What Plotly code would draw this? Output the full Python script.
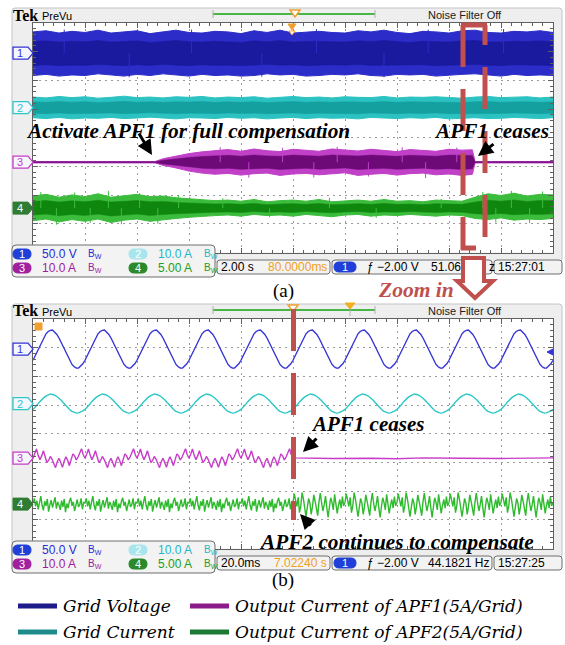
import plotly.graph_objects as go

# ---------------------------------------------------------------------------
# Channel settings (volts / amps per division) and screen offsets (divisions)
# ---------------------------------------------------------------------------
ch_names = ["Grid Voltage", "Grid Current",
            "Output Current of APF1(5A/Grid)", "Output Current of APF2(5A/Grid)"]
ch_scale = [50.0, 10.0, 10.0, 5.0]
ch_offset = [6.95, 5.05, 3.15, 1.55]
ch_scale_labels = ["50.0 V", "10.0 A", "10.0 A", "5.00 A"]

# ---------------------------------------------------------------------------
# Record (a): 2.00 s/div, envelopes of the dense traces
# ---------------------------------------------------------------------------
t_a = [0.0, 0.5, 1.0, 1.5, 2.0, 2.5, 3.0, 3.5, 4.0, 4.5, 5.0, 5.5, 6.0, 6.5,
       7.0, 7.5, 8.0, 8.5, 9.0, 9.5, 10.0, 10.5, 11.0, 11.5, 12.0, 12.5, 13.0,
       13.5, 14.0, 14.5, 15.0, 15.5, 16.0, 16.5, 17.0, 17.5, 18.0, 18.5, 19.0,
       19.5, 20.0]
ch1_up_a = [37, 39, 35, 38, 36, 40, 35, 37, 39, 34, 37, 40, 36, 35, 38, 37, 34,
            39, 36, 40, 35, 37, 38, 36, 35, 39, 37, 40, 36, 34, 38, 37, 35, 39,
            40, 36, 35, 38, 37, 39, 36]
ch1_lo_a = [-39, -37, -40, -38, -39, -36, -38, -40, -37, -39, -36, -38, -40,
            -37, -39, -38, -40, -39, -36, -38, -37, -40, -39, -37, -38, -36,
            -39, -40, -37, -38, -37, -40, -39, -37, -36, -38, -40, -37, -39,
            -38, -39]
ch2_up_a = [3.7, 3.4, 3.9, 3.5, 3.8, 3.3, 3.6, 4.0, 3.5, 3.7, 3.4, 3.8, 3.6,
            3.9, 3.4, 3.7, 3.5, 3.8, 3.3, 3.6, 3.9, 3.5, 3.7, 3.4, 3.8, 3.6,
            3.5, 3.9, 3.4, 3.7, 3.6, 3.8, 3.5, 3.3, 3.7, 3.9, 3.5, 3.6, 3.8,
            3.4, 3.7]
ch2_lo_a = [-3.5, -3.8, -3.4, -3.9, -3.6, -3.7, -3.4, -3.8, -3.6, -3.3, -3.7,
            -3.9, -3.5, -3.6, -3.8, -3.4, -3.7, -3.5, -3.9, -3.6, -3.4, -3.8,
            -3.5, -3.7, -3.6, -3.9, -3.4, -3.6, -3.8, -3.5, -3.7, -3.4, -3.9,
            -3.6, -3.5, -3.8, -3.7, -3.4, -3.6, -3.8, -3.5]
t3_a = [0.0, 1.0, 2.0, 3.0, 4.0, 4.7, 5.0, 5.5, 6.0, 6.5, 7.0, 7.5, 8.0, 8.5,
        9.0, 9.5, 10.0, 10.5, 11.0, 11.5, 12.0, 12.5, 13.0, 13.5, 14.0, 14.5,
        15.0, 15.5, 16.0, 16.5, 16.9, 17.0, 18.0, 19.0, 20.0]
ch3_up_a = [0.25, 0.25, 0.25, 0.25, 0.25, 0.25, 1.2, 2.2, 3.0, 3.6, 4.0, 4.4,
            3.8, 4.6, 4.0, 3.7, 4.5, 4.1, 3.8, 4.6, 4.2, 3.9, 4.5, 4.0, 3.7,
            4.4, 4.1, 3.8, 4.5, 4.2, 4.3, 0.25, 0.25, 0.25, 0.25]
ch3_lo_a = [-0.25, -0.25, -0.25, -0.25, -0.25, -0.25, -1.1, -2.0, -3.1, -3.8,
            -4.2, -3.9, -4.5, -4.0, -3.8, -4.6, -4.1, -3.9, -4.4, -4.0, -3.7,
            -4.6, -4.2, -3.9, -4.5, -4.0, -3.8, -4.4, -4.1, -4.6, -4.2, -0.25,
            -0.25, -0.25, -0.25]
ch4_up_a = [2.1, 2.4, 1.9, 2.3, 2.0, 2.5, 1.9, 2.2, 2.4, 2.0, 2.1, 1.8, 1.6,
            1.5, 1.3, 1.4, 1.2, 1.5, 1.1, 1.3, 1.4, 1.2, 1.5, 1.1, 1.3, 1.4,
            1.2, 1.5, 1.2, 1.3, 1.1, 1.4, 1.3, 1.2, 1.9, 2.5, 2.2, 2.6, 2.1,
            2.4, 2.3]
ch4_lo_a = [-2.2, -1.9, -2.4, -2.0, -2.3, -1.9, -2.5, -2.1, -1.9, -2.3, -2.0,
            -1.8, -1.6, -1.4, -1.3, -1.2, -1.4, -1.1, -1.3, -1.2, -1.4, -1.1,
            -1.3, -1.5, -1.2, -1.1, -1.4, -1.2, -1.3, -1.1, -1.3, -1.4, -1.2,
            -1.3, -1.8, -2.0, -1.7, -2.1, -1.9, -2.0, -1.8]
# isolated peaks poking out of the dense bands
ch1_spike_t = [1.2, 3.7, 6.1, 8.8, 10.9, 13.5, 15.2, 18.1]
ch1_spike_v = [41, -42, 41, -41, 42, -42, 41, 42]
ch3_spike_t = [7.2, 8.3, 9.6, 10.8, 11.7, 12.9, 14.2, 15.1, 16.3]
ch3_spike_v = [5.2, -5.4, 5.0, -5.3, 5.4, -5.0, 5.2, -5.5, 5.1]
ch4_spike_t = [0.3, 0.9, 1.6, 2.2, 2.9, 3.4, 4.1, 4.8, 5.6, 7.3, 9.1, 11.4,
               13.2, 15.7, 17.3, 17.8, 18.4, 19.1, 19.6]
ch4_spike_v = [2.8, -2.9, 2.7, -2.6, 3.0, -2.8, 2.6, -2.7, 2.3, 1.7, -1.6, 1.8,
               -1.7, 1.6, 2.8, -2.5, 3.0, -2.6, 2.9]

# ---------------------------------------------------------------------------
# Record (b): 20.0 ms/div, one mains period (20 ms) per division
# ---------------------------------------------------------------------------
period_b = 20.0          # ms
n_cycles_b = 10
ch1_cycle_b = [-19.4, -11.8, -3.4, 5.2, 13.4, 20.8, 26.7, 30.8, 32.8, 33.2,
               30.1, 25.6, 19.4, 11.8, 3.4, -5.2, -13.4, -20.8, -26.7, -30.8,
               -32.8, -33.0, -30.1, -25.6]
ch2_cycle_b = [-2.0, -1.3, -0.4, 0.6, 1.4, 2.1, 2.6, 3.0, 3.4, 3.2, 3.0, 2.5,
               1.9, 1.2, 0.3, -0.6, -1.4, -2.1, -2.7, -3.1, -3.3, -3.2, -2.9,
               -2.5]
ch3_cycle_b = [0.0, 1.5, 3.2, 1.0, -0.5, 0.8, 2.6, 0.5, -1.5, -0.8, 0.6, -0.4,
               -2.0, -3.3, -1.2, 0.0, -1.5, -3.2, -1.0, 0.5, -0.8, -2.6, -0.5,
               1.5, 0.8, -0.6, 0.4, 2.0, 3.3, 1.2]
ch3_rest_t = [100.4, 115.0, 130.0, 140.0, 150.0, 165.0, 180.0, 200.0]
ch3_rest_v = [0.1, -0.1, 0.0, -0.2, 0.1, 0.0, -0.1, 0.1]
ch4_pre_b = [0.2, 1.0, -0.4, 0.6, -0.9, 0.3, 1.4, -0.2, -1.1, 0.5, -0.3, 0.9,
             -1.3, -0.1, 0.7, -0.6, 0.2, 1.2, -0.8, 0.4, -0.2, -1.0, 0.6, -0.5,
             0.9, -1.4, 0.1, -0.7, 0.5, 1.1, -0.3, 0.4, -1.2, 0.2, 0.8, -0.5,
             -0.1, 1.0, -0.9, 0.3]
ch4_post_b = [0.3, 1.8, 0.6, -0.4, 1.2, -1.5, -0.3, 2.0, 0.9, -0.8, -2.2, -0.6,
              1.0, 0.2, -1.8, -0.4, 1.6, 0.5, -0.9, -2.0, 0.4, 1.9, 0.2, -1.2,
              -0.1, 1.4, -0.6, -2.3, -0.5, 1.1, 0.3, -1.0, 1.7, 0.4, -1.6, -0.2,
              0.8, -0.7, 1.3, -0.3]

# Readouts
readout_a = dict(timebase="2.00 s", position="80.0000ms", freq="51.06", clock="15:27:01")
readout_b = dict(timebase="20.0ms", position="7.02240 s", freq="44.1821 Hz", clock="15:27:25")

# ---------------------------------------------------------------------------
# Pixel helpers
# ---------------------------------------------------------------------------
W, H = 565, 645
GX0, GX1 = 33, 553
DIV = 28.7
A_TOP = 23
B_TOP = 319
DY_B = 296

SANS = "Liberation Sans Narrow, Arial Narrow, Liberation Sans, Arial, sans-serif"
SERIF = "Liberation Serif"
SERIF_LEG = "DejaVu Serif"
RED = "#c0504d"

col_line = ["#3535d5", "#2bc8c8", "#c83cc8", "#2dbb2d"]
col_edge_a = ["#2c2cc8", "#2cc2c2", "#c040c8", "#3cbc3c"]
col_core_a = ["#1a1a9e", "#15a0a0", "#6e0a78", "#0f870f"]
col_read = ["#2a2ad8", "#20b8c8", "#a020a0", "#20a020"]
col_badge = ["#1f3fd8", "#a8e6ee", "#a020a0", "#2a8a2a"]


def X(px):
    return px / W


def Y(py):
    return 1 - py / H


def rrect(x0, y0, x1, y1, r):
    return (f"M{X(x0 + r)},{Y(y0)} L{X(x1 - r)},{Y(y0)} Q{X(x1)},{Y(y0)} {X(x1)},{Y(y0 + r)} "
            f"L{X(x1)},{Y(y1 - r)} Q{X(x1)},{Y(y1)} {X(x1 - r)},{Y(y1)} "
            f"L{X(x0 + r)},{Y(y1)} Q{X(x0)},{Y(y1)} {X(x0)},{Y(y1 - r)} "
            f"L{X(x0)},{Y(y0 + r)} Q{X(x0)},{Y(y0)} {X(x0 + r)},{Y(y0)} Z")


def poly(pts, close=True):
    s = "M" + " L".join(f"{X(a)},{Y(b)}" for a, b in pts)
    return s + (" Z" if close else "")


shapes = []
annotations = []


def add_path(path, fill="rgba(0,0,0,0)", line_color="rgba(0,0,0,0)", width=1, layer="above", dash="solid"):
    shapes.append(dict(type="path", xref="paper", yref="paper", path=path, fillcolor=fill,
                       line=dict(color=line_color, width=width, dash=dash), layer=layer))


def add_line(x0, y0, x1, y1, color, width=1, dash="solid", layer="above"):
    shapes.append(dict(type="line", xref="paper", yref="paper", x0=X(x0), y0=Y(y0), x1=X(x1), y1=Y(y1),
                       line=dict(color=color, width=width, dash=dash), layer=layer))


def add_text(x, y, s, size=12, color="black", anchor="left", family=SANS, weight="normal", style="normal"):
    annotations.append(dict(x=X(x), y=Y(y), xref="paper", yref="paper", text=s, showarrow=False,
                            xanchor=anchor, yanchor="middle", borderpad=0,
                            font=dict(family=family, size=size, color=color, weight=weight, style=style)))


def add_arrow(xt, yt, xh, yh):
    annotations.append(dict(x=X(xh), y=Y(yh), xref="paper", yref="paper", ax=xt - xh, ay=yt - yh,
                            axref="pixel", ayref="pixel", text="", showarrow=True, arrowhead=2,
                            arrowsize=1.0, arrowwidth=3, arrowcolor="black"))


# ---------------------------------------------------------------------------
# Scope chrome (frame, tags, readouts)
# ---------------------------------------------------------------------------
def scope_chrome(dy, readout, freq_split):
    # frame and graticule background
    add_path(rrect(12, 8 + dy, 562, 262 + dy, 3), fill="#eeeeee", line_color="#c4c4c4", layer="below")
    add_path(poly([(GX0, A_TOP + dy), (GX1, A_TOP + dy), (GX1, A_TOP + 8 * DIV + dy), (GX0, A_TOP + 8 * DIV + dy)]),
             fill="white", layer="below")
    # header
    add_text(12, 15 + dy, "Tek", size=16, family=SERIF, weight="bold")
    add_text(41, 16 + dy, "PreVu", size=11)
    add_line(213, 14 + dy, 375, 14 + dy, "#49b649", width=2)
    add_line(213, 10 + dy, 213, 18 + dy, "#b0b0b0", width=1)
    add_line(375, 10 + dy, 375, 18 + dy, "#b0b0b0", width=1)
    add_text(465, 15 + dy, "Noise Filter Off", size=11, color="#202020", anchor="center")

    # channel tags on the left edge
    bottom = A_TOP + 8 * DIV + dy
    for i in range(4):
        yc = bottom - ch_offset[i] * DIV
        pts = [(13, yc - 6), (28, yc - 6), (33, yc), (28, yc + 6), (13, yc + 6)]
        if i == 3:
            add_path(poly(pts), fill="#2e7d32", line_color="#2e7d32", width=1)
            add_text(20, yc, str(i + 1), size=11, color="white", anchor="center")
        else:
            add_path(poly(pts), fill="#f6f6ff", line_color=col_line[i], width=1.3)
            add_text(20, yc, str(i + 1), size=11, color=col_line[i], anchor="center")

    # vertical settings box
    add_path(rrect(12, 245 + dy, 215, 277 + dy, 4), fill="#f3f3f3", line_color="#6e6e6e", width=1)
    rows = [(0, 13, 254), (1, 129, 254), (2, 13, 268), (3, 129, 268)]
    for i, bx, by in rows:
        add_path(rrect(bx, by - 5 + dy, bx + 18, by + 5 + dy, 5), fill=col_badge[i], line_color=col_badge[i])
        add_text(bx + 9, by + dy, str(i + 1), size=11, color="white", anchor="center")
        add_text(bx + 28, by + dy, ch_scale_labels[i], size=12, color=col_read[i])
        add_text(bx + 74, by + dy, "B<sub>W</sub>", size=10, color=col_read[i])

    # horizontal / trigger / clock boxes
    add_path(rrect(217, 260 + dy, 330, 274 + dy, 3), fill="#f3f3f3", line_color="#6e6e6e")
    add_text(220, 267 + dy, readout["timebase"], size=12)
    add_text(328, 267 + dy, readout["position"], size=12, color="#f0a020", anchor="right")
    add_path(rrect(332, 260 + dy, 492, 274 + dy, 3), fill="#f3f3f3", line_color="#6e6e6e")
    add_path(rrect(334, 262 + dy, 356, 272 + dy, 5), fill="#1f3fd8", line_color="#1f3fd8")
    add_text(345, 267 + dy, "1", size=11, color="white", anchor="center")
    add_text(366, 267 + dy, "ƒ −2.00 V", size=12)
    if freq_split:
        add_text(462, 267 + dy, readout["freq"], size=12, anchor="right")
    else:
        add_text(490, 267 + dy, readout["freq"], size=12, anchor="right")
    add_path(rrect(494, 260 + dy, 562, 274 + dy, 3), fill="#f3f3f3", line_color="#6e6e6e")
    add_text(497, 267 + dy, readout["clock"], size=12)


scope_chrome(0, readout_a, True)
scope_chrome(DY_B, readout_b, False)

# trigger markers
add_path(poly([(290, 10), (300, 10), (295, 17)]), fill="white", line_color="#f0a030", width=1.5)
add_path(poly([(288, 24), (296, 24), (292, 30)]), fill="#f0a030", line_color="#f0a030")
add_path(poly([(289, 31), (295, 31), (292, 35)]), fill="white", line_color="#f0a030", width=1)
add_path(poly([(288, 305), (298, 305), (293, 312)]), fill="white", line_color="#f0a030", width=1.5)
add_path(poly([(345, 303), (355, 303), (350, 309)]), fill="#f0b020", line_color="#f0b020")
add_line(350, 309, 350, 316, "#b0b0b0", width=1)
add_path(poly([(35, 323), (42, 323), (42, 330), (35, 330)]), fill="#f0a030", line_color="#f0a030")
add_path(poly([(553, 349), (547, 352), (553, 355)]), fill="#3535d5", line_color="#3535d5")

# ---------------------------------------------------------------------------
# Traces
# ---------------------------------------------------------------------------
fig = go.Figure()


def to_div(vals, i):
    return [ch_offset[i] + v / ch_scale[i] for v in vals]


def band(t, up, lo, i):
    xs = list(t) + list(t)[::-1]
    ys = to_div(up, i) + to_div(lo, i)[::-1]
    fig.add_trace(go.Scatter(x=xs, y=ys, fill="toself", fillcolor=col_edge_a[i], mode="lines",
                             line=dict(color=col_edge_a[i], width=1), xaxis="x", yaxis="y",
                             name=ch_names[i], hoverinfo="skip"))
    core_up = [v * 0.55 for v in up]
    core_lo = [v * 0.55 for v in lo]
    ys2 = to_div(core_up, i) + to_div(core_lo, i)[::-1]
    fig.add_trace(go.Scatter(x=xs, y=ys2, fill="toself", fillcolor=col_core_a[i], mode="lines",
                             line=dict(color=col_core_a[i], width=0.5), xaxis="x", yaxis="y",
                             name=ch_names[i], hoverinfo="skip"))


def spikes(ts, vs, i):
    xs, ys = [], []
    for t, v in zip(ts, vs):
        xs += [t, t, None]
        ys += [ch_offset[i], ch_offset[i] + v / ch_scale[i], None]
    fig.add_trace(go.Scatter(x=xs, y=ys, mode="lines", line=dict(color=col_edge_a[i], width=1),
                             xaxis="x", yaxis="y", name=ch_names[i], hoverinfo="skip"))


band(t_a, ch1_up_a, ch1_lo_a, 0)
band(t_a, ch2_up_a, ch2_lo_a, 1)
band(t3_a, ch3_up_a, ch3_lo_a, 2)
band(t_a, ch4_up_a, ch4_lo_a, 3)
spikes(ch1_spike_t, ch1_spike_v, 0)
spikes(ch3_spike_t, ch3_spike_v, 2)
spikes(ch4_spike_t, ch4_spike_v, 3)


def tile(cycle, c_start, c_stop, period):
    ts, vs = [], []
    n = len(cycle)
    for c in range(c_start, c_stop):
        for k, v in enumerate(cycle):
            ts.append((c + k / n) * period)
            vs.append(v)
    return ts, vs


def wave(ts, vs, i):
    fig.add_trace(go.Scatter(x=ts, y=to_div(vs, i), mode="lines", line=dict(color=col_line[i], width=1.4),
                             xaxis="x2", yaxis="y2", name=ch_names[i], hoverinfo="skip"))


t1, v1 = tile(ch1_cycle_b, 0, n_cycles_b, period_b)
wave(t1 + [200.0], v1 + [ch1_cycle_b[0]], 0)
t2, v2 = tile(ch2_cycle_b, 0, n_cycles_b, period_b)
wave(t2 + [200.0], v2 + [ch2_cycle_b[0]], 1)
t3, v3 = tile(ch3_cycle_b, 0, 5, period_b)
wave(t3 + ch3_rest_t, v3 + ch3_rest_v, 2)
t4a, v4a = tile(ch4_pre_b, 0, 5, period_b)
t4b, v4b = tile(ch4_post_b, 5, n_cycles_b, period_b)
wave(t4a + t4b + [200.0], v4a + v4b + [ch4_post_b[0]], 3)

# ---------------------------------------------------------------------------
# Annotations: event labels, zoom marker, captions
# ---------------------------------------------------------------------------
# dashed zoom window on record (a)
add_line(463, 25, 463, 250, RED, width=5, dash="42px,22px")
add_line(485, 237, 485, 25, RED, width=5, dash="42px,22px")
add_line(461, 25, 487, 25, RED, width=5)
add_line(461, 248, 476, 248, RED, width=5)
add_path(poly([(463, 258), (463, 281), (457, 281), (475, 298), (493, 281), (484, 281), (484, 258)]),
         fill="white", line_color=RED, width=4)
add_text(488, 267, "z", size=12)
# APF1 stop instant on record (b)
add_line(293.5, 309, 293.5, 520, RED, width=5, dash="42px,22px")

BI = dict(family=SERIF, weight="bold", style="italic")
add_text(25, 131, "Activate APF1 for full compensation", size=21.3, **BI)
add_text(433, 131, "APF1 ceases", size=21.3, **BI)
add_arrow(138, 132, 152, 155)
add_arrow(495, 143, 478, 156)
add_text(377, 290, "Zoom in", size=21.5, color=RED, **BI)
add_text(310, 424, "APF1 ceases", size=21, **BI)
add_arrow(318, 437, 303, 452)
add_text(258, 542, "APF2 continues to compensate", size=21.3, **BI)
add_arrow(312, 527, 300, 514)
add_text(283, 291, "(a)", size=19, family=SERIF, anchor="center")
add_text(283, 580, "(b)", size=19, family=SERIF, anchor="center")

# legend
leg_col = ["#1c1c8a", "#1f8c8c", "#8b1a8b", "#1e7a32"]
leg_pos = [(18, 606), (18, 632), (190, 606), (190, 632)]
for i in range(4):
    x0, yy = leg_pos[i]
    add_line(x0, yy, x0 + 39, yy, leg_col[i], width=5)
    add_text(x0 + 44, yy, ch_names[i], size=17, family=SERIF_LEG, style="italic")

# ---------------------------------------------------------------------------
# Axes (graticules) and layout
# ---------------------------------------------------------------------------
def grat(domain, rng, dtick, mdtick, anchor):
    return dict(domain=domain, range=rng, anchor=anchor, dtick=dtick, tick0=0, showticklabels=False,
                showline=True, mirror="allticks", linecolor="#606060", linewidth=1,
                ticks="inside", ticklen=5, tickcolor="#606060",
                showgrid=True, gridcolor="#9a9a9a", griddash="2px,4px", gridwidth=1, zeroline=False,
                minor=dict(ticks="inside", ticklen=3, dtick=mdtick, tickcolor="#606060", showgrid=False),
                fixedrange=True)


xa_dom = [X(GX0), X(GX1)]
fig.update_layout(
    width=W, height=H, margin=dict(l=0, r=0, t=0, b=0),
    paper_bgcolor="white", plot_bgcolor="white", showlegend=False,
    xaxis=grat(xa_dom, [0, 20], 2, 0.4, "y"),
    yaxis=grat([Y(A_TOP + 8 * DIV), Y(A_TOP)], [0, 8], 1, 0.2, "x"),
    xaxis2=grat(xa_dom, [0, 200], 20, 4, "y2"),
    yaxis2=grat([Y(B_TOP + 8 * DIV), Y(B_TOP)], [0, 8], 1, 0.2, "x2"),
    shapes=shapes, annotations=annotations,
)

fig.write_html("out.html")
